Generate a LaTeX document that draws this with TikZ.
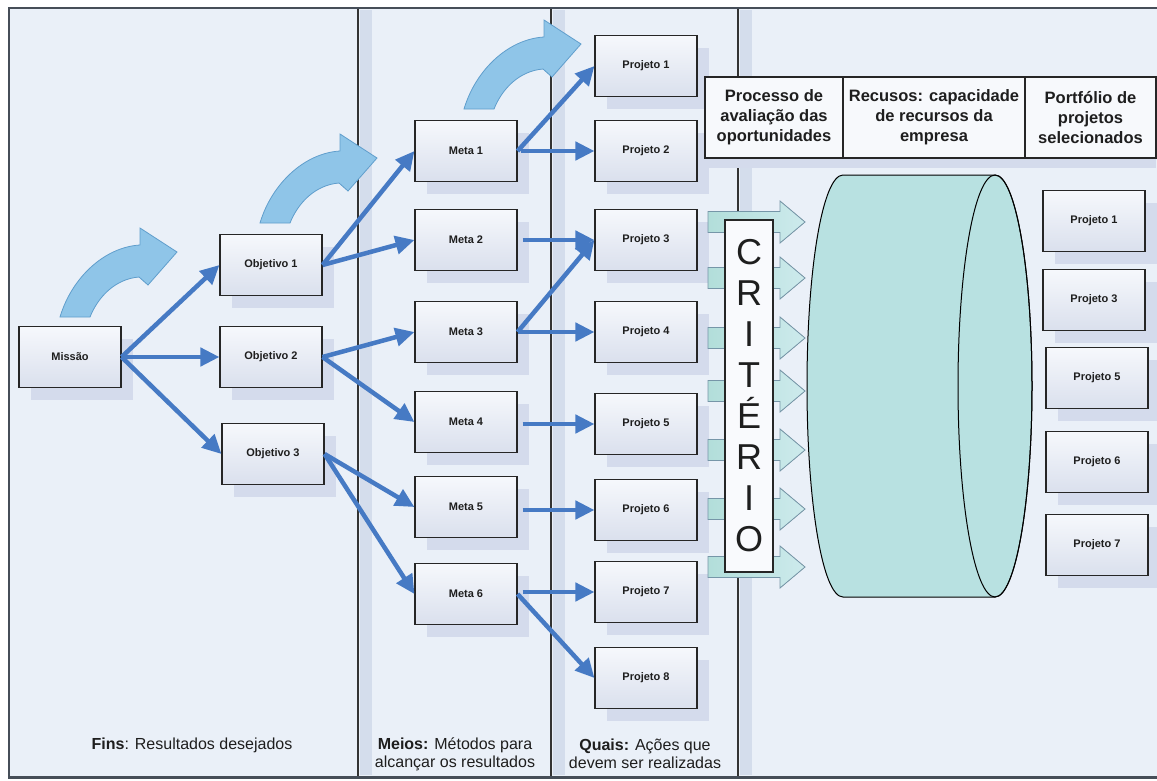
\documentclass[tikz,border=0pt]{standalone}
\usepackage{fontspec}
\setmainfont{Liberation Sans}
\usetikzlibrary{arrows.meta,shadows}
\definecolor{bgc}{RGB}{234,240,248}
\definecolor{stripec}{RGB}{212,221,236}
\definecolor{shadowc}{RGB}{212,219,236}
\definecolor{boxtop}{RGB}{246,248,252}
\definecolor{boxbot}{RGB}{218,224,237}
\definecolor{connc}{RGB}{70,122,196}
\definecolor{bendfill}{RGB}{143,197,232}
\definecolor{benddraw}{RGB}{96,158,204}
\definecolor{critA}{RGB}{178,222,218}
\definecolor{critB}{RGB}{205,234,236}
\definecolor{critdraw}{RGB}{118,150,168}
\definecolor{cylc}{RGB}{184,225,225}
\definecolor{framec}{RGB}{70,78,88}
\definecolor{textc}{RGB}{30,30,30}
\newcommand{\bendarrow}[2]{%
  \begin{scope}[shift={(#1,#2)}]
    \filldraw[bendstyle] (0,0) .. controls (12,-40) and (45,-70) .. (80,-72)
      -- (80,-89) -- (117,-65) -- (88,-32) -- (79,-40)
      .. controls (55,-38) and (38,-20) .. (30,0) -- cycle;
  \end{scope}}
\begin{document}
\begin{tikzpicture}[x=1pt,y=-1pt,
  bendstyle/.style={fill=bendfill,draw=benddraw,line width=0.8pt},
  boxnode/.style={draw=black!85,line width=1.1pt,minimum width=102pt,minimum height=61pt,
    inner sep=0pt,top color=boxtop,bottom color=boxbot,text=textc,
    font=\fontsize{11}{13}\selectfont\bfseries,
    drop shadow={shadow xshift=12pt,shadow yshift=-12pt,fill=shadowc,opacity=1}},
  hdrnode/.style={draw=black!85,line width=1.1pt,minimum height=81pt,inner sep=0pt,
    fill=white!60!bgc,align=center,text=textc,
    font=\fontsize{16.5}{20}\selectfont\bfseries,
    drop shadow={shadow xshift=0pt,shadow yshift=-10pt,fill=shadowc,opacity=1}},
  botlabel/.style={align=center,text=textc,inner sep=0pt,font=\fontsize{16}{18}\selectfont},
  conn/.style={draw=connc,line width=4.5pt,-{Triangle[length=19pt,width=18pt]}},
  critarrow/.style={left color=critA,right color=critB,draw=critdraw,line width=0.8pt},
  divider/.style={draw=black!80,line width=1.4pt},
  cylstyle/.style={fill=cylc,draw=black,line width=1pt}]
\useasboundingbox (0,0) rectangle (1157,780);
% background
\fill[bgc] (9,8) rectangle (1157,777);
% stripes beside dividers
\foreach \d in {358,551,738} { \fill[stripec] (\d+2,10) rectangle (\d+14,775); }
% dividers
\draw[divider] (358,8) -- (358,777);
\draw[divider] (551,8) -- (551,777);
\draw[divider] (738,8) -- (738,777);
% frame
\draw[framec,line width=2pt] (1157,8) -- (9,8) -- (9,777);
\draw[framec,line width=3pt] (8,777) -- (1157,777);
% curved block arrows
\bendarrow{60}{317}
\bendarrow{260}{223}
\bendarrow{464}{109}
% nodes
\node[boxnode] (mis) at (70,357) {Missão};
\node[boxnode] (obj1) at (271,265) {Objetivo 1};
\node[boxnode] (obj2) at (271,357) {Objetivo 2};
\node[boxnode] (obj3) at (273,454) {Objetivo 3};
\node[boxnode] (m1) at (466,151) {Meta 1};
\node[boxnode] (m2) at (466,240) {Meta 2};
\node[boxnode] (m3) at (466,332) {Meta 3};
\node[boxnode] (m4) at (466,422) {Meta 4};
\node[boxnode] (m5) at (466,507) {Meta 5};
\node[boxnode] (m6) at (466,594) {Meta 6};
\node[boxnode] (p1) at (646,66) {Projeto 1};
\node[boxnode] (p2) at (646,151) {Projeto 2};
\node[boxnode] (p3) at (646,240) {Projeto 3};
\node[boxnode] (p4) at (646,332) {Projeto 4};
\node[boxnode] (p5) at (646,424) {Projeto 5};
\node[boxnode] (p6) at (646,510) {Projeto 6};
\node[boxnode] (p7) at (646,592) {Projeto 7};
\node[boxnode] (p8) at (646,678) {Projeto 8};
% connectors
\draw[conn] (mis.east) -- (obj1.west);
\draw[conn] (mis.east) -- (obj2.west);
\draw[conn] (mis.east) -- (obj3.west);
\draw[conn] (obj1.east) -- (m1.west);
\draw[conn] (obj1.east) -- (m2.west);
\draw[conn] (obj2.east) -- (m3.west);
\draw[conn] (obj2.east) -- (m4.west);
\draw[conn] (obj3.east) -- (m5.west);
\draw[conn] (obj3.east) -- (m6.west);
\draw[conn] (m1.east) -- (p1.west);
\draw[conn,shorten <=3pt] (m1.east) -- (m1.east -| p2.west);
\draw[conn,shorten <=5pt] (m2.east) -- (m2.east -| p3.west);
\draw[conn] (m3.east) -- (p3.west);
\draw[conn] (m3.east) -- (p4.west);
\draw[conn,shorten <=5pt] (p5.west -| m4.east) -- (p5.west);
\draw[conn,shorten <=5pt] (p6.west -| m5.east) -- (p6.west);
\draw[conn,shorten <=5pt] (p7.west -| m6.east) -- (p7.west);
\draw[conn] (m6.east) -- (p8.west);
% header boxes
\node[hdrnode,minimum width=138pt] (h1) at (774,117.5) {Processo de\\avaliação das\\oportunidades};
\node[hdrnode,minimum width=182pt] (h2) at (934,117.5) {Recusos: capacidade\\de recursos da\\empresa};
\node[hdrnode,minimum width=131pt] (h3) at (1090.5,117.5) {Portfólio de\\projetos\\selecionados};
% criterion arrows
\foreach \yy in {222,278,338,391,450,509,567} {
  \filldraw[critarrow] (708,{\yy-10.5}) -- (780,{\yy-10.5}) -- (780,{\yy-21}) -- (805,\yy)
    -- (780,{\yy+21}) -- (780,{\yy+10.5}) -- (708,{\yy+10.5}) -- cycle;
}
\node[draw=black!85,line width=1.1pt,fill=white!70!bgc,minimum width=48pt,minimum height=352pt,
  inner sep=0pt,align=center,text=textc,font=\fontsize{36}{41}\selectfont] (crit) at (749,396)
  {C\\R\\I\\T\\É\\R\\I\\O};
% cylinder
\filldraw[cylstyle] (843,175) -- (995,175) .. controls (1015.4,175) and (1032,269.5) .. (1032,386)
  .. controls (1032,502.5) and (1015.4,597) .. (995,597) -- (843,597)
  .. controls (822.6,597) and (807,502.5) .. (807,386)
  .. controls (807,269.5) and (822.6,175) .. (843,175) -- cycle;
\draw[cylstyle,fill=none] (995,386) ellipse [x radius=37, y radius=211];
% portfolio
\node[boxnode] (q1) at (1094,221) {Projeto 1};
\node[boxnode] (q3) at (1094,300) {Projeto 3};
\node[boxnode] (q5) at (1097,378) {Projeto 5};
\node[boxnode] (q6) at (1097,462) {Projeto 6};
\node[boxnode] (q7) at (1097,545) {Projeto 7};
% bottom labels
\node[botlabel] (fins) at (192,745) {\textbf{Fins}: Resultados desejados};
\node[botlabel] (meios) at (455,754) {\textbf{Meios:} Métodos para\\alcançar os resultados};
\node[botlabel] (quais) at (645,754) {\textbf{Quais:} Ações que\\devem ser realizadas};
\end{tikzpicture}
\end{document}
